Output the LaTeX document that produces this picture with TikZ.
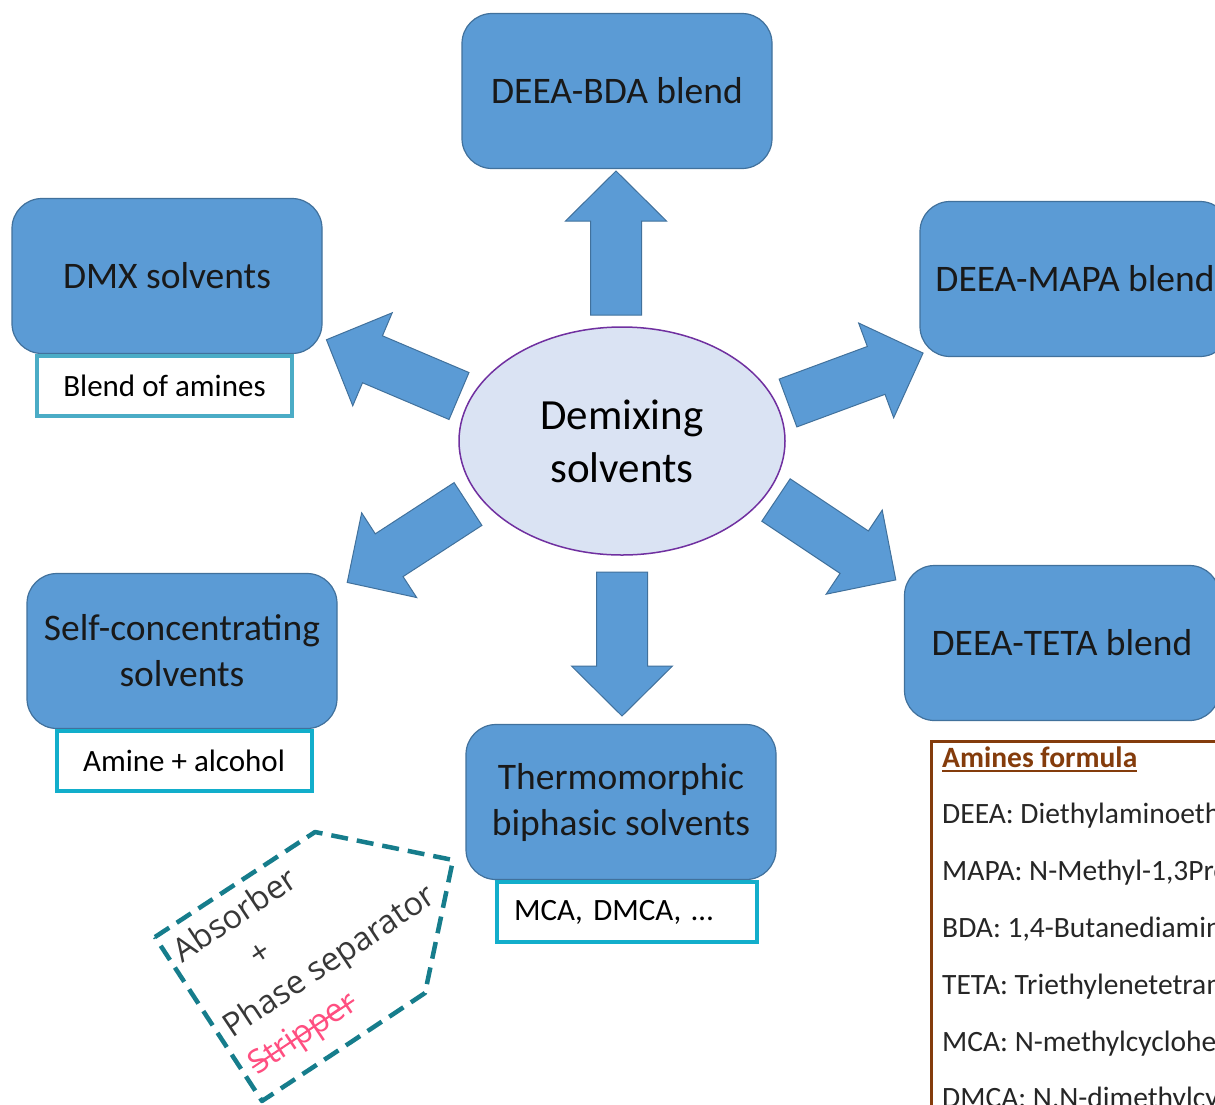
\documentclass[tikz,border=0pt]{standalone}
\usepackage{fontspec}
\setmainfont{Carlito}
\newfontfamily\notefont{Open Sans}
\usetikzlibrary{shapes.geometric,positioning}

\newlength\marklen
\newcommand\strikeout[1]{\settowidth{\marklen}{#1}\rlap{\rule[0.26em]{\marklen}{2pt}}#1}
\newcommand\ulined[1]{\settowidth{\marklen}{#1}\rlap{\rule[-5pt]{\marklen}{2pt}}#1}

\definecolor{boxblue}{HTML}{5B9BD5}
\definecolor{boxline}{HTML}{41719C}
\definecolor{ellfill}{HTML}{DAE3F3}
\definecolor{ellline}{HTML}{7030A0}
\definecolor{tealA}{HTML}{4BACC6}
\definecolor{tealB}{HTML}{12AECB}
\definecolor{notecol}{HTML}{167D8C}
\definecolor{strikecol}{HTML}{FF4F81}
\definecolor{formcol}{HTML}{843C0C}

\tikzset{
  solvent/.style={draw=boxline, line width=1.2pt, fill=boxblue, rounded corners=30pt,
    minimum width=310pt, minimum height=155pt, align=center, text=black!90,
    font=\fontsize{37.5}{46}\selectfont},
  subbox/.style={draw=#1, line width=4pt, fill=white, minimum width=255pt,
    minimum height=60pt, text=black, font=\fontsize{31}{38}\selectfont\frenchspacing},
  blockarrow/.pic={\draw[boxline, fill=boxblue, line width=1pt]
    (0,-25.5) -- (94,-25.5) -- (94,-50.5) -- (144,0) -- (94,50.5) -- (94,25.5) -- (0,25.5) -- cycle;},
  amine/.style={anchor=base west, inner sep=0pt, text=black!85, font=\fontsize{29.5}{34}\selectfont}
}

\begin{document}
\begin{tikzpicture}[x=1pt,y=-1pt]

\useasboundingbox (0,0) rectangle (1215,1104);
\clip (0,0) rectangle (1215,1104);
\fill[white] (0,0) rectangle (1215,1104);

\node[ellipse, draw=ellline, line width=1.5pt, fill=ellfill, minimum width=326pt, minimum height=228pt,
  align=center, font=\fontsize{43}{53}\selectfont] (demix) at (622,441) {Demixing\\solvents};

\node[solvent] (bda) at (617,91) {DEEA-BDA blend};
\node[solvent] (dmx) at (167,276) {DMX solvents};
\node[solvent] (mapa) at (1075,279) {DEEA-MAPA blend};
\node[solvent] (self) at (182,651) {Self-concentrating\\solvents};
\node[solvent, minimum width=315pt] (teta) at (1062,643) {DEEA-TETA blend};
\node[solvent] (thermo) at (621,802) {Thermomorphic\\biphasic solvents};

\node[subbox=tealA, below=0pt of dmx, xshift=-2.5pt] (blend) {Blend of amines};
\node[subbox=tealB, below=0pt of self, xshift=2pt] (alcohol) {Amine + alcohol};
\node[subbox=tealB, below=0pt of thermo, xshift=6pt, text width=226pt, align=left, inner xsep=17pt] (mca) {MCA, DMCA, …};

% block arrows
\pic[rotate=90] at (616,315) {blockarrow};
\pic[rotate=-90] at (622,572) {blockarrow};
\pic[rotate=20.3] at (788,403) {blockarrow};
\pic[rotate=-33.7] at (776,500) {blockarrow};
\pic[rotate=157] at (459,396) {blockarrow};
\pic[rotate=-147] at (468,504) {blockarrow};

\draw[notecol, line width=4.5pt, dash pattern=on 17pt off 9pt, line join=round]
  (155,937) -- (315,832) -- (453,860) -- (425,993) -- (262,1101) -- cycle;
\node[rotate=33.7, align=left, text=black!78, font=\notefont\fontsize{32.5}{45}\selectfont] (note) at (318,944)
  {Absorber\\\makebox[4.3em]{+}\\Phase separator\\\textcolor{strikecol}{\strikeout{Stripper}}};

% amines formula
\node[draw=formcol, line width=3pt, minimum width=320pt, minimum height=400pt, anchor=north west, inner sep=0pt] (formula) at (930,740) {};
\node[amine, text=formcol, font=\bfseries\fontsize{29.5}{34}\selectfont] (ftitle) at (942,767) {\ulined{Amines formula}};
\foreach \txt [count=\i] in {DEEA: Diethylaminoethanol, {MAPA: N-Methyl-1,3Propanediamine}, {BDA: 1,4-Butanediamine},
    TETA: Triethylenetetramine, MCA: N-methylcyclohexylamine, {DMCA: N,N-dimethylcyclohexylamine}}
  \node[amine] (am\i) at (942,{767+56.8*\i}) {\txt};
\end{tikzpicture}
\end{document}
